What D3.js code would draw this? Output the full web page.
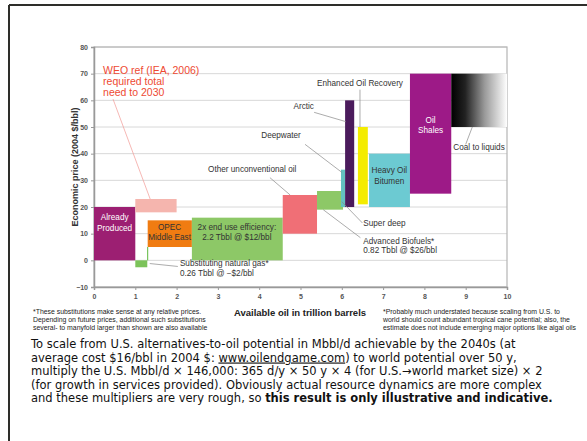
<!DOCTYPE html>
<html>
<head>
<meta charset="utf-8">
<script src="https://cdn.jsdelivr.net/npm/d3@7"></script>
<style>
  body { margin: 0; background: #fff; }
  svg { display: block; font-family: "Liberation Sans", Arial, sans-serif; }
</style>
</head>
<body>
<svg id="chart" width="587" height="441"></svg>
<script>
// resource blocks: name, trillion barrels (start/end) and price band (2004 $/bbl)
const resources = ["Already Produced", "WEO need", "Substituting natural gas", "OPEC Middle East",
  "End-use efficiency", "Other unconventional oil", "Advanced Biofuels", "Deepwater",
  "Arctic", "Enhanced Oil Recovery", "Heavy Oil Bitumen", "Oil Shales", "Coal to liquids"];
const volStart = [0, 1, 1, 1.3, 2.37, 4.57, 5.4, 5.98, 6.08, 6.39, 6.66, 7.65, 8.65];
const volEnd   = [1, 2, 1.29, 2.37, 4.57, 5.4, 6.03, 6.08, 6.3, 6.63, 7.65, 8.65, 10];
const priceLow  = [0, 18, -2.6, 5, 0, 10, 19, 20, 20, 21, 20, 25, 50];
const priceHigh = [20, 23, 0, 15, 16, 24.5, 26, 34, 60, 50, 40, 70, 70];

const xTicks = [0, 1, 2, 3, 4, 5, 6, 7, 8, 9, 10];
const yTicks = [-10, 0, 10, 20, 30, 40, 50, 60, 70, 80];

// colours per block
const fills = {
  "Already Produced": "#9c1f72",
  "WEO need": "#f5b5ae",
  "Substituting natural gas": "#7cc35a",
  "OPEC Middle East": "#f07c12",
  "End-use efficiency": "#8dc867",
  "Other unconventional oil": "#f06f76",
  "Advanced Biofuels": "#8dc867",
  "Deepwater": "#63c2c0",
  "Arctic": "#4b1b5c",
  "Enhanced Oil Recovery": "#f4ec00",
  "Heavy Oil Bitumen": "#6ccad2",
  "Oil Shales": "#9d1a87",
  "Coal to liquids": "url(#ctl)"
};

let svg = d3.select("#chart");

// page frame (top and left rule)
svg.append("line").attr("x1", 9).attr("y1", 5).attr("x2", 587).attr("y2", 5)
  .attr("stroke", "#2e2e2a").attr("stroke-width", 2);
svg.append("line").attr("x1", 9).attr("y1", 5).attr("x2", 9).attr("y2", 441)
  .attr("stroke", "#2e2e2a").attr("stroke-width", 2);

let x = d3.scaleLinear().domain([0, 10]).range([94, 507]);
let y = d3.scaleLinear().domain([-10, 80]).range([287, 47]);

// gradient for coal to liquids
let grad = svg.append("defs").append("linearGradient").attr("id", "ctl");
grad.append("stop").attr("offset", "0%").attr("stop-color", "#000");
grad.append("stop").attr("offset", "25%").attr("stop-color", "#222");
grad.append("stop").attr("offset", "60%").attr("stop-color", "#9a9a9a");
grad.append("stop").attr("offset", "100%").attr("stop-color", "#fff");

// grid lines
svg.append("g")
  .selectAll("line")
  .data(yTicks)
  .enter().append("line")
  .attr("x1", x(0)).attr("x2", x(10))
  .attr("y1", d => y(d)).attr("y2", d => y(d))
  .attr("stroke", "#d8d8d8").attr("stroke-width", 1);

// plot border
svg.append("rect")
  .attr("x", x(0)).attr("y", y(80))
  .attr("width", x(10) - x(0)).attr("height", y(-10) - y(80))
  .attr("fill", "none").attr("stroke", "#b5b5b5").attr("stroke-width", 1.2);

// axes
let yAxis = svg.append("g")
  .attr("transform", "translate(" + x(0) + ",0)")
  .call(d3.axisLeft(y).tickValues(yTicks).tickSize(3).tickPadding(3));
let xAxis = svg.append("g")
  .attr("transform", "translate(0," + y(-10) + ")")
  .call(d3.axisBottom(x).tickValues(xTicks).tickSize(3).tickPadding(4));
[yAxis, xAxis].forEach(function(a) {
  a.select(".domain").attr("stroke", "#999").attr("stroke-width", 1.5);
  a.selectAll(".tick line").attr("stroke", "#999");
  a.selectAll(".tick text").attr("fill", "#555").style("font-size", "7px")
    .style("font-weight", "bold");
});

// blocks
let blocks = resources.map((r, i) => ({
  name: r, x0: volStart[i], x1: volEnd[i], lo: priceLow[i], hi: priceHigh[i]
}));
svg.append("g")
  .selectAll("rect")
  .data(blocks)
  .enter().append("rect")
  .attr("x", d => x(d.x0))
  .attr("y", d => y(d.hi))
  .attr("width", d => x(d.x1) - x(d.x0))
  .attr("height", d => y(d.lo) - y(d.hi))
  .attr("fill", d => fills[d.name]);

// little green riser for natural gas substitution
svg.append("line")
  .attr("x1", x(1.3)).attr("x2", x(1.3))
  .attr("y1", y(0)).attr("y2", y(5))
  .attr("stroke", "#5cb83c").attr("stroke-width", 1);

// leader lines (data coords)
let leaders = [
  [[0.46, 60.5], [1.36, 23], "#f29a95"],
  [[1.35, -1.2], [2.03, -2.3], "#888"],
  [[4.26, 31], [4.75, 24.5], "#888"],
  [[5.11, 43.5], [6.0, 33], "#888"],
  [[5.33, 55.5], [6.1, 52], "#888"],
  [[6.44, 64], [6.44, 50], "#888"],
  [[6.0, 22], [6.5, 14], "#888"],
  [[5.55, 19], [6.45, 8.5], "#888"],
  [[9.16, 50], [9.0, 43.5], "#888"]
];
svg.append("g")
  .selectAll("line")
  .data(leaders)
  .enter().append("line")
  .attr("x1", d => x(d[0][0])).attr("y1", d => y(d[0][1]))
  .attr("x2", d => x(d[1][0])).attr("y2", d => y(d[1][1]))
  .attr("stroke", d => d[2]).attr("stroke-width", 0.7);

// helper for multi-line labels
function label(lines, px, py, opts) {
  let t = svg.append("text")
    .attr("x", px).attr("y", py)
    .attr("text-anchor", opts.anchor || "start")
    .attr("fill", opts.color || "#333")
    .style("font-size", (opts.size || 8.2) + "px");
  lines.forEach(function(l, i) {
    t.append("tspan").attr("x", px).attr("dy", i === 0 ? 0 : (opts.lh || 1.2) + "em").text(l);
  });
  return t;
}

// labels inside/near blocks
label(["Already", "Produced"], x(0.5), y(15.1), {anchor: "middle", color: "#fff", lh: 1.3});
label(["OPEC", "Middle East"], x(1.83), y(11.5), {anchor: "middle", color: "#333"});
label(["2x end use efficiency:", "2.2 Tbbl @ $12/bbl"], x(3.46), y(11.5), {anchor: "middle", color: "#333"});
label(["Heavy Oil", "Bitumen"], x(7.15), y(32.7), {anchor: "middle", color: "#333", lh: 1.35});
label(["Oil", "Shales"], x(8.15), y(51.5), {anchor: "middle", color: "#fff"});
label(["Substituting natural gas*", "0.26 Tbbl @ \u2212$2/bbl"], x(2.08), y(-2.2), {});
label(["Other unconventional oil"], x(4.9), y(33.2), {anchor: "end"});
label(["Deepwater"], x(4.05), y(45.8), {});
label(["Arctic"], x(4.83), y(56.8), {});
label(["Enhanced Oil Recovery"], x(6.44), y(65.3), {anchor: "middle"});
label(["Super deep"], x(6.52), y(13), {});
label(["Advanced Biofuels*", "0.82 Tbbl @ $26/bbl"], x(6.52), y(6.3), {});
label(["Coal to liquids"], x(8.7), y(41.3), {});

// IEA reference annotation
label(["WEO ref (IEA, 2006)", "required total", "need to 2030"], x(0.22), y(70),
  {color: "#ee4a32", size: 10.5, lh: 1.05});

// axis titles
svg.append("text")
  .attr("transform", "translate(78," + y(35) + ") rotate(-90)")
  .attr("text-anchor", "middle")
  .attr("fill", "#333")
  .style("font-size", "9px").style("font-weight", "bold")
  .text("Economic price (2004 $/bbl)");
svg.append("text")
  .attr("x", 300).attr("y", 316)
  .attr("text-anchor", "middle")
  .attr("fill", "#222")
  .style("font-size", "9.5px").style("font-weight", "bold")
  .text("Available oil in trillion barrels");

// footnotes
label(["*These substitutions make sense at any relative prices.",
  "Depending on future prices, additional such substitutions",
  "several- to manyfold larger than shown are also available"], 33, 314, {size: 6.9, lh: 1.15, color: "#222"});
label(["*Probably much understated because scaling from U.S. to",
  "world should count abundant tropical cane potential; also, the",
  "estimate does not include emerging major options like algal oils"], 383, 314, {size: 6.9, lh: 1.15, color: "#222"});

// explanatory paragraph
let para = svg.append("text")
  .attr("fill", "#111")
  .style("font-family", "'DejaVu Sans', Verdana, sans-serif")
  .style("font-size", "11.5px");
let top0 = 348, lineH = 13.5;
let l1 = para.append("tspan").attr("x", 31).attr("y", top0);
l1.text("To scale from U.S. alternatives-to-oil potential in Mbbl/d achievable by the 2040s (at");
let l2 = para.append("tspan").attr("x", 31).attr("y", top0 + lineH);
l2.append("tspan").text("average cost $16/bbl in 2004 $: ");
l2.append("tspan").attr("text-decoration", "underline").text("www.oilendgame.com");
l2.append("tspan").text(") to world potential over 50 y,");
para.append("tspan").attr("x", 31).attr("y", top0 + lineH * 2)
  .text("multiply the U.S. Mbbl/d \u00d7 146,000: 365 d/y \u00d7 50 y \u00d7 4 (for U.S.\u2192world market size) \u00d7 2");
para.append("tspan").attr("x", 31).attr("y", top0 + lineH * 3)
  .text("(for growth in services provided). Obviously actual resource dynamics are more complex");
let l5 = para.append("tspan").attr("x", 31).attr("y", top0 + lineH * 4);
l5.append("tspan").text("and these multipliers are very rough, so ");
l5.append("tspan").style("font-weight", "bold").text("this result is only illustrative and indicative.");
</script>
</body>
</html>
